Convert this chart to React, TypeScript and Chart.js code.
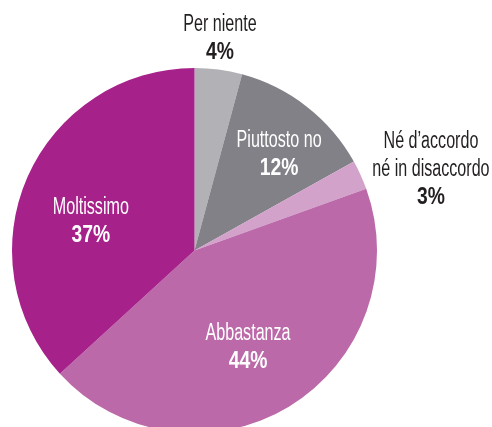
import React, { useEffect, useRef } from "react";
import { Chart, registerables } from "chart.js";

Chart.register(...registerables);

const categories = ["Per niente", "Piuttosto no", "Né d’accordo\nné in disaccordo", "Abbastanza", "Moltissimo"];
const values = [4.2, 12.7, 2.6, 43.7, 36.8];
const percentLabels = ["4%", "12%", "3%", "44%", "37%"];
const colors = ["#b1b1b6", "#818187", "#d2a2ca", "#bb69a9", "#a7218b"];
const labelColors = ["#231f20", "#ffffff", "#231f20", "#ffffff", "#ffffff"];
// label placement: radius factor and angle adjustment (degrees) relative to slice middle
const labelRadius = [1.17, 0.7, 1.37, 0.61, 0.59];
const labelAngleShift = [-0.7, 3.5, 5.5, 2.4, -8.1];

const FONT = '"Liberation Sans", Arial, sans-serif';
const NAME_SCALE = 0.7;
const PCT_SCALE = 0.84;

const labelPlugin = {
  id: "sliceLabels",
  afterDraw(chart: any) {
    const ctx = chart.ctx;
    const meta = chart.getDatasetMeta(0);
    meta.data.forEach((arc: any, i: number) => {
      const p = arc.getProps(["x", "y", "startAngle", "endAngle", "outerRadius"], true);
      const mid = (p.startAngle + p.endAngle) / 2 + (labelAngleShift[i] * Math.PI) / 180;
      const r = p.outerRadius * labelRadius[i];
      const cx = p.x + Math.cos(mid) * r;
      const cy = p.y + Math.sin(mid) * r;
      const lines = categories[i].split("\n");
      const lh = 28;
      const total = lines.length + 1;
      const top = cy - ((total - 1) * lh) / 2;
      ctx.save();
      ctx.fillStyle = labelColors[i];
      ctx.textAlign = "center";
      ctx.textBaseline = "middle";
      lines.forEach((ln, k) => {
        ctx.save();
        ctx.translate(cx, top + k * lh);
        ctx.scale(NAME_SCALE, 1);
        ctx.font = `400 23px ${FONT}`;
        ctx.fillText(ln, 0, 0);
        ctx.restore();
      });
      ctx.save();
      ctx.translate(cx, top + lines.length * lh);
      ctx.scale(PCT_SCALE, 1);
      ctx.font = `700 23px ${FONT}`;
      ctx.fillText(percentLabels[i], 0, 0);
      ctx.restore();
      ctx.restore();
    });
  },
};

export default function App() {
  const ref = useRef<HTMLCanvasElement>(null);
  useEffect(() => {
    if (!ref.current) return;
    const chart = new Chart(ref.current, {
      type: "pie",
      data: {
        labels: categories,
        datasets: [
          {
            data: values,
            backgroundColor: colors,
            borderWidth: 0,
          },
        ],
      },
      options: {
        animation: false,
        responsive: false,
        maintainAspectRatio: false,
        layout: { padding: { left: 12, right: 115, top: 68, bottom: 7 } },
        plugins: {
          legend: { display: false },
          tooltip: { enabled: false },
        },
      },
      plugins: [labelPlugin],
    });
    return () => chart.destroy();
  }, []);
  return (
    <div
      style={{
        position: "fixed",
        left: 0,
        top: 0,
        width: 492,
        height: 427,
        overflow: "hidden",
        background: "#ffffff",
      }}
    >
      <canvas ref={ref} width={492} height={440} style={{ display: "block" }} />
    </div>
  );
}
